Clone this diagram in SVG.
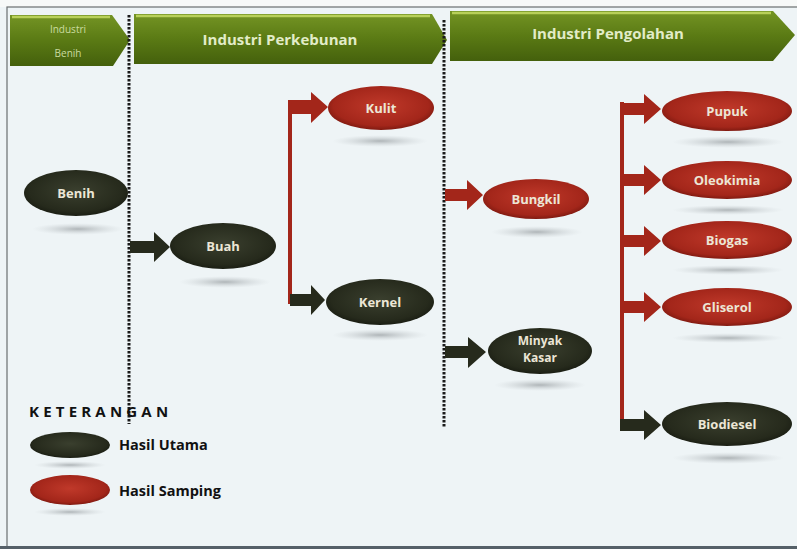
<svg xmlns="http://www.w3.org/2000/svg" width="797" height="549" viewBox="0 0 797 549">
<defs>
<linearGradient id="gBanner" x1="0" y1="0" x2="0" y2="1">
<stop offset="0" stop-color="#749424"/>
<stop offset="0.5" stop-color="#5a7a14"/>
<stop offset="1" stop-color="#44600c"/>
</linearGradient>
<radialGradient id="gDark" cx="0.5" cy="0.45" r="0.6">
<stop offset="0" stop-color="#3a3f2e"/>
<stop offset="0.75" stop-color="#262a1c"/>
<stop offset="1" stop-color="#15180f"/>
</radialGradient>
<radialGradient id="gRed" cx="0.5" cy="0.45" r="0.6">
<stop offset="0" stop-color="#c0392a"/>
<stop offset="0.75" stop-color="#a3261a"/>
<stop offset="1" stop-color="#6e140c"/>
</radialGradient>
<radialGradient id="gRefl" cx="0.5" cy="0.5" r="0.5">
<stop offset="0" stop-color="#9fa5a8" stop-opacity="0.8"/>
<stop offset="1" stop-color="#c9cfd2" stop-opacity="0"/>
</radialGradient>
</defs>
<style>
.bn{fill:url(#gBanner);}
.bs{fill:none;stroke:#b8d05a;stroke-width:2.5;}
.bt{font-family:"Open Sans","Liberation Sans",sans-serif;font-weight:bold;fill:#e2ecc8;text-anchor:middle;}
.bt2{font-family:"Open Sans","Liberation Sans",sans-serif;font-weight:normal;font-size:10px;fill:#cadca0;text-anchor:middle;}
.dot{stroke:#1a1a1a;stroke-width:3;stroke-dasharray:2.5 1.5;}
.dk{fill:url(#gDark);}
.rd{fill:url(#gRed);}
.rf{fill:url(#gRefl);}
.nt{font-family:"Open Sans","Liberation Sans",sans-serif;font-weight:bold;font-size:13px;fill:#ece6d6;text-anchor:middle;}
.nt2{font-family:"Open Sans","Liberation Sans",sans-serif;font-weight:bold;font-size:12px;fill:#ece6d6;text-anchor:middle;}
.ad{fill:#262a1c;}
.ar{fill:#a3261a;}
.lt{font-family:"Open Sans","Liberation Sans",sans-serif;font-weight:bold;fill:#111;}
</style>
<rect x="0" y="0" width="797" height="549" fill="#eef4f6"/>
<rect x="0" y="0" width="797" height="7" fill="#f7f9f8"/>
<rect x="7" y="7" width="795" height="540" fill="none" stroke="#6a6e70" stroke-width="1.2"/>
<rect x="0" y="546" width="797" height="3" fill="#556068"/>

<g id="banner-benih">
<polygon class="bn" points="10,15 112,15 130,40 113,66 10,66"/>
<line class="bs" x1="12" y1="17" x2="110" y2="17"/>
<text class="bt2" x="68" y="33">Industri</text>
<text class="bt2" x="68" y="57">Benih</text>
</g>
<g id="banner-perkebunan">
<polygon class="bn" points="134,14 432,14 447,40 432,64 134,64"/>
<line class="bs" x1="136" y1="16" x2="430" y2="16"/>
<text class="bt" x="280" y="45" font-size="15">Industri Perkebunan</text>
</g>
<g id="banner-pengolahan">
<polygon class="bn" points="450,11 773,11 795,35 773,61 450,61"/>
<line class="bs" x1="452" y1="13" x2="771" y2="13"/>
<text class="bt" x="608" y="39" font-size="15">Industri Pengolahan</text>
</g>

<g id="dividers">
<line class="dot" x1="129" y1="15" x2="129" y2="424"/>
<line class="dot" x1="444" y1="20" x2="444" y2="428"/>
</g>

<g id="connectors">
<polygon class="ad" points="130,241 154,241 154,232 170,247 154,262 154,253 130,253"/>
<rect class="ar" x="288" y="100" width="4" height="204"/>
<polygon class="ar" points="288,100 311,100 311,92 328,107 311,123 311,114 288,114"/>
<polygon class="ad" points="290,294 311,294 311,285 325,300 311,315 311,306 290,306"/>
<polygon class="ar" points="445,189 467,189 467,180 483,195 467,210 467,201 445,201"/>
<polygon class="ad" points="445,346 468,346 468,337 486,352 468,368 468,358 445,358"/>
<rect class="ar" x="620" y="102" width="4" height="326"/>
<polygon class="ar" points="620,103 644,103 644,94 661,109 644,124 644,115 620,115"/>
<polygon class="ar" points="620,174 644,174 644,165 661,180 644,195 644,186 620,186"/>
<polygon class="ar" points="620,235 644,235 644,226 661,241 644,256 644,247 620,247"/>
<polygon class="ar" points="620,301 644,301 644,292 661,307 644,322 644,313 620,313"/>
<polygon class="ad" points="620,419 644,419 644,410 661,425 644,440 644,431 620,431"/>
</g>

<g id="node-benih">
<ellipse class="rf" cx="78" cy="229" rx="46" ry="6"/>
<ellipse class="dk" cx="76" cy="193" rx="52" ry="23"/>
<text class="nt" x="76" y="198">Benih</text>
</g>
<g id="node-buah">
<ellipse class="rf" cx="225" cy="282" rx="46" ry="6"/>
<ellipse class="dk" cx="223" cy="246" rx="53" ry="23"/>
<text class="nt" x="223" y="251">Buah</text>
</g>
<g id="node-kulit">
<ellipse class="rf" cx="380" cy="141" rx="48" ry="6"/>
<ellipse class="rd" cx="381" cy="108" rx="53" ry="22"/>
<text class="nt" x="381" y="113">Kulit</text>
</g>
<g id="node-kernel">
<ellipse class="rf" cx="380" cy="335" rx="48" ry="6"/>
<ellipse class="dk" cx="380" cy="302" rx="54" ry="23"/>
<text class="nt" x="380" y="307">Kernel</text>
</g>
<g id="node-bungkil">
<ellipse class="rf" cx="537" cy="232" rx="46" ry="6"/>
<ellipse class="rd" cx="536" cy="199" rx="53" ry="20"/>
<text class="nt" x="536" y="204">Bungkil</text>
</g>
<g id="node-minyak">
<ellipse class="rf" cx="540" cy="385" rx="46" ry="6"/>
<ellipse class="dk" cx="540" cy="351" rx="52" ry="23"/>
<text class="nt2" x="540" y="345">Minyak</text>
<text class="nt2" x="540" y="362">Kasar</text>
</g>
<g id="node-pupuk">
<ellipse class="rf" cx="728" cy="142" rx="56" ry="6"/>
<ellipse class="rd" cx="727" cy="111" rx="65" ry="20"/>
<text class="nt" x="727" y="116">Pupuk</text>
</g>
<g id="node-oleokimia">
<ellipse class="rf" cx="728" cy="210" rx="56" ry="5"/>
<ellipse class="rd" cx="727" cy="180" rx="65" ry="19"/>
<text class="nt" x="727" y="185">Oleokimia</text>
</g>
<g id="node-biogas">
<ellipse class="rf" cx="728" cy="270" rx="56" ry="5"/>
<ellipse class="rd" cx="727" cy="240" rx="65" ry="19"/>
<text class="nt" x="727" y="245">Biogas</text>
</g>
<g id="node-gliserol">
<ellipse class="rf" cx="728" cy="338" rx="56" ry="5"/>
<ellipse class="rd" cx="727" cy="307" rx="65" ry="19"/>
<text class="nt" x="727" y="312">Gliserol</text>
</g>
<g id="node-biodiesel">
<ellipse class="rf" cx="728" cy="458" rx="56" ry="6"/>
<ellipse class="dk" cx="727" cy="424" rx="65" ry="22"/>
<text class="nt" x="727" y="429">Biodiesel</text>
</g>

<g id="legend">
<text class="lt" x="29" y="417" font-size="15" letter-spacing="4.2">KETERANGAN</text>
<ellipse class="rf" cx="70" cy="465" rx="36" ry="4"/>
<ellipse class="dk" cx="70" cy="445" rx="40" ry="13"/>
<text class="lt" x="119" y="450" font-size="14.5">Hasil Utama</text>
<ellipse class="rf" cx="70" cy="512" rx="36" ry="4"/>
<ellipse class="rd" cx="70" cy="490" rx="40" ry="15"/>
<text class="lt" x="119" y="496" font-size="14.5">Hasil Samping</text>
</g>
</svg>
